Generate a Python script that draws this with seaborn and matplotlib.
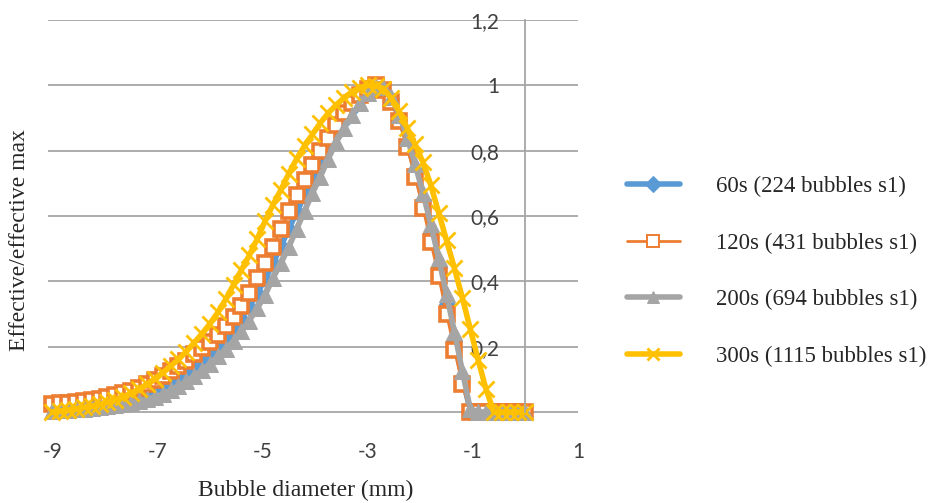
import pandas as pd
import seaborn as sns
import matplotlib.pyplot as plt

# bubble diameter axis
diameter = [-9.00, -8.85, -8.70, -8.55, -8.40, -8.25, -8.10, -7.95, -7.80, -7.65,
            -7.50, -7.35, -7.20, -7.05, -6.90, -6.75, -6.60, -6.45, -6.30, -6.15,
            -6.00, -5.85, -5.70, -5.55, -5.40, -5.25, -5.10, -4.95, -4.80, -4.65,
            -4.50, -4.35, -4.20, -4.05, -3.90, -3.75, -3.60, -3.45, -3.30, -3.15,
            -3.00, -2.85, -2.70, -2.55, -2.40, -2.25, -2.10, -1.95, -1.80, -1.65,
            -1.50, -1.35, -1.20, -1.05, -0.90, -0.75, -0.60, -0.45, -0.30, -0.15, 0.00]

s60 = [0.015, 0.016, 0.017, 0.019, 0.021, 0.024, 0.027, 0.031, 0.036, 0.041,
       0.047, 0.054, 0.062, 0.072, 0.083, 0.095, 0.110, 0.126, 0.143, 0.162,
       0.182, 0.204, 0.228, 0.254, 0.286, 0.322, 0.363, 0.407, 0.455, 0.507,
       0.560, 0.612, 0.662, 0.712, 0.760, 0.807, 0.852, 0.892, 0.928, 0.958,
       0.982, 0.998, 0.990, 0.958, 0.900, 0.825, 0.740, 0.648, 0.548, 0.443,
       0.330, 0.218, 0.105, 0.005, 0.0, 0.0, 0.0, 0.0, 0.0, 0.0, 0.0]

s120 = [0.025, 0.026, 0.028, 0.030, 0.033, 0.037, 0.041, 0.046, 0.052, 0.058,
        0.065, 0.074, 0.085, 0.097, 0.110, 0.124, 0.140, 0.157, 0.176, 0.195,
        0.215, 0.237, 0.262, 0.290, 0.325, 0.365, 0.410, 0.455, 0.505, 0.560,
        0.615, 0.665, 0.710, 0.755, 0.800, 0.840, 0.880, 0.915, 0.945, 0.970,
        0.990, 1.000, 0.985, 0.950, 0.890, 0.810, 0.720, 0.625, 0.520, 0.415,
        0.300, 0.190, 0.085, 0.0, 0.0, 0.0, 0.0, 0.0, 0.0, 0.0, 0.0]

s200 = [0.004, 0.005, 0.006, 0.008, 0.010, 0.012, 0.014, 0.017, 0.020, 0.024,
        0.028, 0.033, 0.039, 0.046, 0.055, 0.066, 0.079, 0.094, 0.110, 0.128,
        0.148, 0.170, 0.193, 0.218, 0.247, 0.280, 0.317, 0.358, 0.410, 0.455,
        0.505, 0.560, 0.615, 0.670, 0.720, 0.775, 0.825, 0.870, 0.910, 0.945,
        0.975, 0.995, 0.995, 0.965, 0.910, 0.840, 0.760, 0.670, 0.575, 0.470,
        0.360, 0.245, 0.125, 0.010, 0.0, 0.0, 0.0, 0.0, 0.0, 0.0, 0.0]

s300 = [0.000, 0.003, 0.006, 0.010, 0.014, 0.018, 0.023, 0.029, 0.037, 0.046,
        0.057, 0.070, 0.085, 0.102, 0.120, 0.140, 0.161, 0.185, 0.212, 0.240,
        0.270, 0.305, 0.345, 0.390, 0.435, 0.480, 0.530, 0.585, 0.635, 0.680,
        0.730, 0.775, 0.815, 0.850, 0.885, 0.915, 0.940, 0.962, 0.980, 0.993,
        1.000, 0.998, 0.990, 0.960, 0.920, 0.870, 0.820, 0.765, 0.695, 0.610,
        0.525, 0.440, 0.350, 0.255, 0.160, 0.070, 0.0, 0.0, 0.0, 0.0, 0.0]

labels = ['60s (224 bubbles s1)', '120s (431 bubbles s1)',
          '200s (694 bubbles s1)', '300s (1115 bubbles s1)']
colors = ['#5B9BD5', '#ED7D31', '#A5A5A5', '#FFC000']
x_ticks = [-9, -7, -5, -3, -1, 1]
y_ticks = [0, 0.2, 0.4, 0.6, 0.8, 1, 1.2]
y_ticklabels = ['0', '0,2', '0,4', '0,6', '0,8', '1', '1,2']

df = pd.DataFrame({'diameter': diameter * 4,
                   'value': s60 + s120 + s200 + s300,
                   'series': [l for l in labels for _ in diameter]})

sns.set_style('white')
plt.rcParams['font.family'] = ['Liberation Serif', 'DejaVu Serif']
plt.rcParams['axes.unicode_minus'] = False

fig = plt.figure(figsize=(9.3, 5.03), dpi=100)
ax = fig.add_axes([48 / 930, 1 - 428.3 / 503, 530 / 930, 408.3 / 503])

styles = [dict(marker='D', markersize=8, mfc=colors[0], mec=colors[0], lw=4),
          dict(marker='s', markersize=10, mfc='white', mec=colors[1], mew=2.6, lw=2),
          dict(marker='^', markersize=11, mfc=colors[2], mec=colors[2], lw=4),
          dict(marker='x', markersize=11, mec=colors[3], mew=2, lw=4)]

for lab, col, st in zip(labels, colors, styles):
    sub = df[df['series'] == lab]
    sns.lineplot(data=sub, x='diameter', y='value', color=col, label=lab,
                 ax=ax, sort=False, clip_on=False, **st)

ax.set_xlim(-9.08, 1.0)
ax.set_ylim(-0.05, 1.2)
ax.set_xticks(x_ticks)
ax.set_yticks(y_ticks)
ax.set_yticklabels(y_ticklabels)
ax.yaxis.grid(True, color='#a6a6a6', lw=1.3)
ax.xaxis.grid(False)
ax.set_axisbelow(True)

for side in ['top', 'right', 'bottom']:
    ax.spines[side].set_visible(False)
ax.spines['left'].set_position(('data', 0))
ax.spines['left'].set_bounds(0, 1.2)
ax.spines['left'].set_color('#a6a6a6')
ax.spines['left'].set_linewidth(1.3)

ax.tick_params(axis='both', length=0, labelsize=15, labelcolor='#404040')
ax.tick_params(axis='y', pad=19)
ax.tick_params(axis='x', pad=10)
for t in ax.get_xticklabels() + ax.get_yticklabels():
    t.set_fontfamily('Lato')

ax.set_xlabel('Bubble diameter (mm)', fontsize=17, va='center')
ax.xaxis.set_label_coords((306 - 48) / 530, (428.3 - 490) / 408.3)
ax.set_ylabel('Effective/effective max', fontsize=17, va='center')
ax.yaxis.set_label_coords((20 - 48) / 530, (428.3 - 240) / 408.3)

leg = ax.legend(loc='upper left', bbox_to_anchor=(627 / 930, 1 - 176 / 503),
                bbox_transform=fig.transFigure, frameon=False, fontsize=16.5,
                handlelength=2.3, handletextpad=1.6, labelspacing=1.55,
                borderpad=0, borderaxespad=0, numpoints=1)
for h in leg.legend_handles:
    h.set_markersize(8)
    if h.get_marker() == 's':
        h.set_markeredgewidth(1.4)

fig.savefig('out.png', dpi=100)
